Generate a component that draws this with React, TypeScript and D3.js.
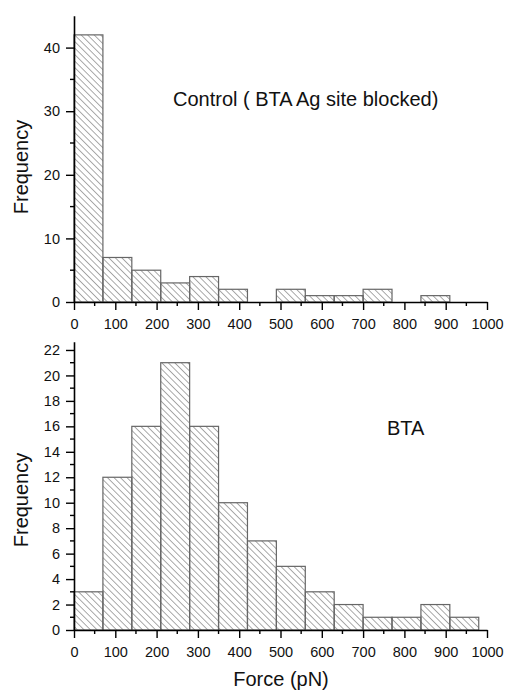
import * as d3 from "d3";
import React, { useRef, useEffect } from "react";

const WIDTH = 506;
const HEIGHT = 692;

// histogram bins are 70 pN wide, starting at 0
const BIN_WIDTH = 70;
const controlCounts = [42, 7, 5, 3, 4, 2, 0, 2, 1, 1, 2, 0, 1];
const btaCounts = [3, 12, 16, 21, 16, 10, 7, 5, 3, 2, 1, 1, 2, 1];

const xTicks = [0, 100, 200, 300, 400, 500, 600, 700, 800, 900, 1000];
const controlYTicks = [0, 10, 20, 30, 40];
const btaYTicks = [0, 2, 4, 6, 8, 10, 12, 14, 16, 18, 20, 22];

const controlLabel = "Control ( BTA Ag site blocked)";
const btaLabel = "BTA";
const xLabel = "Force (pN)";
const yLabel = "Frequency";

const FONT = "'Liberation Sans', Arial, sans-serif";

const App = () => {
	const svgRef = useRef(null);

	useEffect(() => {
		const svg = d3.select(svgRef.current);
		svg.selectAll("*").remove();

		const defs = svg.append("defs");
		defs
			.append("pattern")
			.attr("id", "hatch")
			.attr("patternUnits", "userSpaceOnUse")
			.attr("width", 4.6)
			.attr("height", 4.6)
			.attr("patternTransform", "rotate(-45)")
			.append("line")
			.attr("x1", 0)
			.attr("y1", 0)
			.attr("x2", 0)
			.attr("y2", 4.6)
			.attr("stroke", "#444")
			.attr("stroke-width", 0.9);

		const x = d3.scaleLinear().domain([0, 1000]).range([74, 487]);

		const drawPanel = (counts, yMax, yTicks, minorStep, y0, y1, label, lx, ly, yLabelMid) => {
			const y = d3.scaleLinear().domain([0, yMax]).range([y0, y1]);
			const g = svg.append("g");

			g.selectAll("rect.bar")
				.data(counts.map((c, i) => ({ start: i * BIN_WIDTH, c })).filter((d) => d.c > 0))
				.enter()
				.append("rect")
				.attr("class", "bar")
				.attr("x", (d) => x(d.start))
				.attr("y", (d) => y(d.c))
				.attr("width", (d) => x(d.start + BIN_WIDTH) - x(d.start))
				.attr("height", (d) => y(0) - y(d.c))
				.attr("fill", "url(#hatch)")
				.attr("stroke", "#666")
				.attr("stroke-width", 1.2);

			// x axis
			const xAxis = g.append("g").attr("transform", `translate(0,${y0})`);
			xAxis
				.call(d3.axisBottom(x).tickValues(xTicks).tickFormat(d3.format("d")).tickSize(8).tickSizeOuter(0).tickPadding(9))
				.call((a) => a.select(".domain").attr("stroke-width", 1.6))
				.call((a) => a.selectAll(".tick line").attr("stroke-width", 1.4))
				.call((a) => a.selectAll("text").attr("font-size", 14.5).attr("font-family", FONT).attr("fill", "#111"));
			xAxis
				.selectAll("line.minor")
				.data(d3.range(50, 1000, 100))
				.enter()
				.append("line")
				.attr("class", "minor")
				.attr("x1", (d) => x(d))
				.attr("x2", (d) => x(d))
				.attr("y1", 0)
				.attr("y2", 4)
				.attr("stroke", "#000")
				.attr("stroke-width", 1.4);

			// y axis
			const yAxis = g.append("g").attr("transform", `translate(${x(0)},0)`);
			yAxis
				.call(d3.axisLeft(y).tickValues(yTicks).tickSize(8).tickSizeOuter(0).tickPadding(6))
				.call((a) => a.select(".domain").attr("stroke-width", 1.6))
				.call((a) => a.selectAll(".tick line").attr("stroke-width", 1.4))
				.call((a) => a.selectAll("text").attr("font-size", 14.5).attr("font-family", FONT).attr("fill", "#111"));
			yAxis
				.selectAll("line.minor")
				.data(d3.range(minorStep, yMax - 0.5, minorStep * 2))
				.enter()
				.append("line")
				.attr("class", "minor")
				.attr("x1", -4)
				.attr("x2", 0)
				.attr("y1", (d) => y(d))
				.attr("y2", (d) => y(d))
				.attr("stroke", "#000")
				.attr("stroke-width", 1.4);

			g.append("text")
				.attr("x", lx)
				.attr("y", ly)
				.attr("font-size", 20)
				.attr("font-family", FONT)
				.attr("fill", "#111")
				.text(label);

			g.append("text")
				.attr("transform", `translate(28,${yLabelMid}) rotate(-90)`)
				.attr("text-anchor", "middle")
				.attr("font-size", 20)
				.attr("font-family", FONT)
				.attr("fill", "#111")
				.text(yLabel);
		};

		drawPanel(controlCounts, 45, controlYTicks, 5, 302, 15.8, controlLabel, 173, 106, 167);
		drawPanel(btaCounts, 22.65, btaYTicks, 1, 630, 341.7, btaLabel, 387, 435, 500);

		svg
			.append("text")
			.attr("x", 281)
			.attr("y", 686)
			.attr("text-anchor", "middle")
			.attr("font-size", 20)
			.attr("font-family", FONT)
			.attr("fill", "#111")
			.text(xLabel);
	}, []);

	return (
		<svg
			ref={svgRef}
			width={WIDTH}
			height={HEIGHT}
			viewBox={`0 0 ${WIDTH} ${HEIGHT}`}
			style={{ position: "absolute", left: 0, top: 0, background: "#fff" }}
		/>
	);
};

export default App;
